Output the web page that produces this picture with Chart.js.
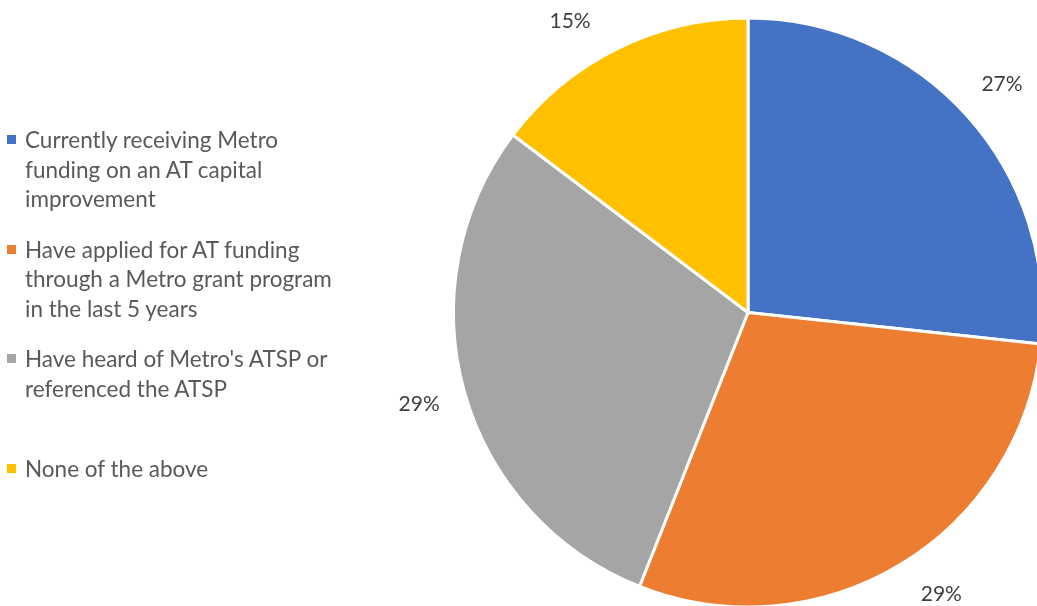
<!DOCTYPE html>
<html>
<head>
<meta charset="utf-8">
<script src="https://cdn.jsdelivr.net/npm/chart.js@4.4.1/dist/chart.umd.min.js"></script>
<style>
  html, body { margin: 0; padding: 0; background: #fff; overflow: hidden; }
  #wrap { position: relative; width: 1037px; height: 606px; overflow: hidden; }
  #chart { position: absolute; left: 0; top: 0; }
  #legend { position: absolute; left: 0; top: 0; font-family: Lato, "Open Sans", sans-serif; font-size: 22.5px; color: #595959; }
  .item { position: absolute; left: 7px; width: 340px; line-height: 29.5px; }
  .box { position: absolute; left: 0; top: 10px; width: 9px; height: 9px; }
  .txt { position: absolute; left: 18px; white-space: nowrap; }
</style>
</head>
<body>
<div id="wrap">
  <canvas id="chart"></canvas>
  <div id="legend"></div>
</div>
<script>
const categories = [
  ["Currently receiving Metro", "funding on an AT capital", "improvement"],
  ["Have applied for AT funding", "through a Metro grant program", "in the last 5 years"],
  ["Have heard of Metro's ATSP or", "referenced the ATSP"],
  ["None of the above"]
];
// shares in percent (labels show them rounded)
const shares = [26.7, 29.3, 29.3, 14.7];
const colors = ["#4472C4", "#ED7D31", "#A5A5A5", "#FFC000"];

const canvas = document.getElementById("chart");
canvas.width = 1044;
canvas.height = 609;
canvas.style.width = "1044px";
canvas.style.height = "609px";

// percentage labels outside each slice, kept inside the visible area
const outsideLabels = {
  id: "outsideLabels",
  afterDatasetsDraw(chart) {
    const ctx = chart.ctx;
    const meta = chart.getDatasetMeta(0);
    const minY = 21, maxY = 594;
    ctx.save();
    ctx.font = "21px Lato, 'Open Sans', sans-serif";
    ctx.fillStyle = "#404040";
    ctx.textAlign = "center";
    ctx.textBaseline = "middle";
    meta.data.forEach((arc, i) => {
      const mid = (arc.startAngle + arc.endAngle) / 2;
      const r = arc.outerRadius + 47;
      let x = arc.x + Math.cos(mid) * r;
      let y = arc.y + Math.sin(mid) * r;
      if (y < minY || y > maxY) {
        y = Math.min(maxY, Math.max(minY, y));
        const dy = y - arc.y;
        const dx = Math.sqrt(Math.max(0, r * r - dy * dy));
        x = arc.x + (Math.cos(mid) < 0 ? -dx : dx);
      }
      ctx.fillText(Math.round(shares[i]) + "%", x, y);
    });
    ctx.restore();
  }
};

new Chart(canvas, {
  type: "pie",
  data: {
    labels: categories,
    datasets: [{
      data: shares,
      backgroundColor: colors,
      borderColor: "#ffffff",
      borderWidth: 3
    }]
  },
  options: {
    responsive: false,
    animation: false,
    layout: { padding: { left: 452, top: 16, right: 0, bottom: 0 } },
    plugins: {
      legend: { display: false },
      tooltip: { enabled: false }
    }
  },
  plugins: [outsideLabels]
});

// legend on the left
const legendDiv = document.getElementById("legend");
categories.forEach((lines, i) => {
  const item = document.createElement("div");
  item.className = "item";
  item.style.top = (125 + i * 109.5) + "px";
  const box = document.createElement("div");
  box.className = "box";
  box.style.background = colors[i];
  const txt = document.createElement("div");
  txt.className = "txt";
  txt.innerHTML = lines.join("<br>");
  item.appendChild(box);
  item.appendChild(txt);
  legendDiv.appendChild(item);
});
</script>
</body>
</html>
